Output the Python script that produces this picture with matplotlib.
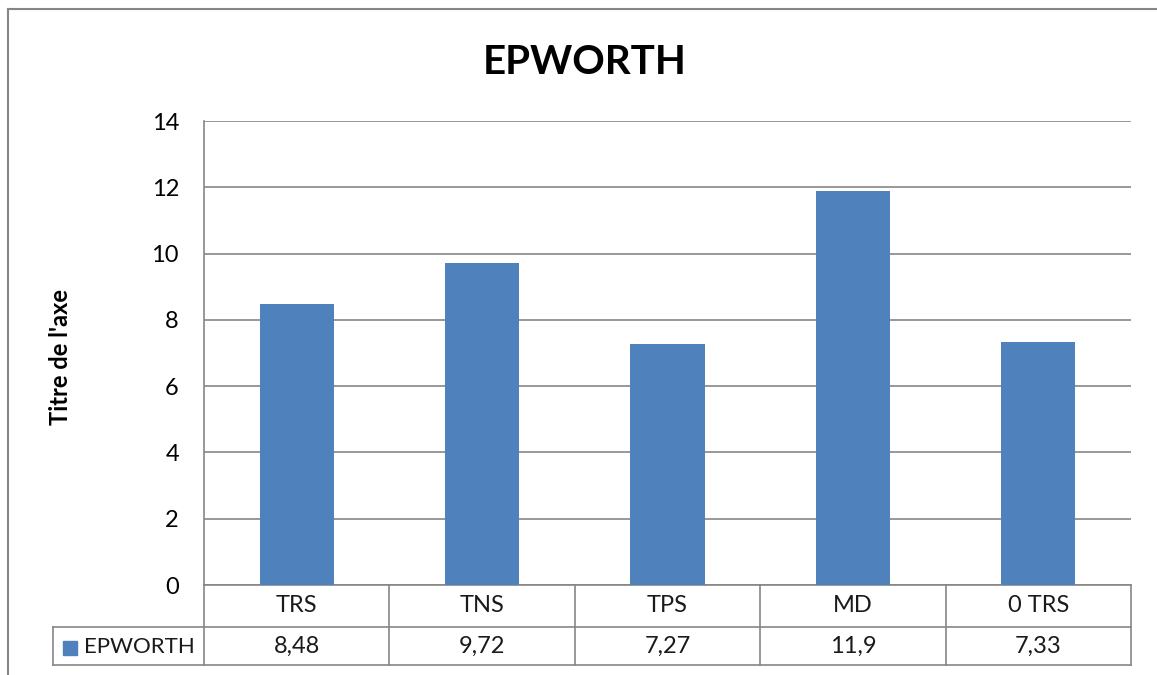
import matplotlib.pyplot as plt
import matplotlib.transforms as mtransforms
from matplotlib.patches import Rectangle

# donnees
categories = ['TRS', 'TNS', 'TPS', 'MD', '0 TRS']
valeurs = [8.48, 9.72, 7.27, 11.9, 7.33]
etiquettes = ['8,48', '9,72', '7,27', '11,9', '7,33']
serie = 'EPWORTH'

plt.rcParams['font.family'] = ['Lato', 'DejaVu Sans']
bleu = '#4F81BD'
gris = '#868686'

W, H = 1157, 675
fig = plt.figure(figsize=(W / 100, H / 100), dpi=100)

# axe en pixels: gauche 204, droite 1131, haut 121, bas 585
ax = fig.add_axes([204 / W, 1 - 585 / H, (1131 - 204) / W, (585 - 121) / H])
x = list(range(len(categories)))
ax.bar(x, valeurs, width=0.4, color=bleu, zorder=3)
ax.set_xlim(-0.5, len(categories) - 0.5)
ax.set_ylim(0, 14)
ax.set_yticks(range(0, 15, 2))
ax.tick_params(axis='y', length=0, labelsize=17, pad=18)
ax.set_xticks([])
ax.grid(axis='y', color=gris, linewidth=1.2, zorder=0)
for s in ['top', 'right', 'bottom']:
    ax.spines[s].set_visible(False)
ax.spines['left'].set_color(gris)
ax.spines['left'].set_linewidth(1.2)
fig.text(60 / W, 1 - 357 / H, "Titre de l'axe", fontsize=17, fontweight='bold',
         rotation=90, ha='center', va='center')

fig.text(585 / W, 1 - 62 / H, 'EPWORTH', fontsize=29, fontweight='bold',
         ha='center', va='center')

# tableau de donnees sous l'axe
h = 464.0
r1 = -42 / h
r2 = -80 / h
lbl_left = -0.5 - (204 - 53) / (927 / len(categories))
n = len(categories)
trans = mtransforms.blended_transform_factory(ax.transData, ax.transAxes)
kw = dict(color=gris, linewidth=1.2, clip_on=False, transform=trans)
ax.plot([-0.5, n - 0.5], [0, 0], **kw)
ax.plot([lbl_left, n - 0.5], [r1, r1], **kw)
ax.plot([lbl_left, n - 0.5], [r2, r2], **kw)
ax.plot([lbl_left, lbl_left], [r1, r2], **kw)
for i in range(n + 1):
    ax.plot([i - 0.5, i - 0.5], [0, r2], **kw)
for i in range(n):
    ax.text(i, r1 / 2, categories[i], transform=trans, ha='center', va='center',
            fontsize=17, color='#1a1a1a')
    ax.text(i, (r1 + r2) / 2, etiquettes[i], transform=trans, ha='center',
            va='center', fontsize=17, color='#1a1a1a')
fig.patches.append(Rectangle((63 / W, 1 - 655 / H), 14 / W, 14 / H,
                             transform=fig.transFigure, color=bleu))
fig.text(84 / W, 1 - 647 / H, serie, fontsize=16, ha='left', va='center',
         color='#1a1a1a')

# cadre exterieur
fig.add_artist(plt.Line2D([8 / W, 8 / W], [0, 1 - 9 / H], color=gris,
                          linewidth=1.5, transform=fig.transFigure))
fig.add_artist(plt.Line2D([8 / W, 1], [1 - 9 / H, 1 - 9 / H], color=gris,
                          linewidth=1.5, transform=fig.transFigure))

fig.savefig('out.png', dpi=100)
